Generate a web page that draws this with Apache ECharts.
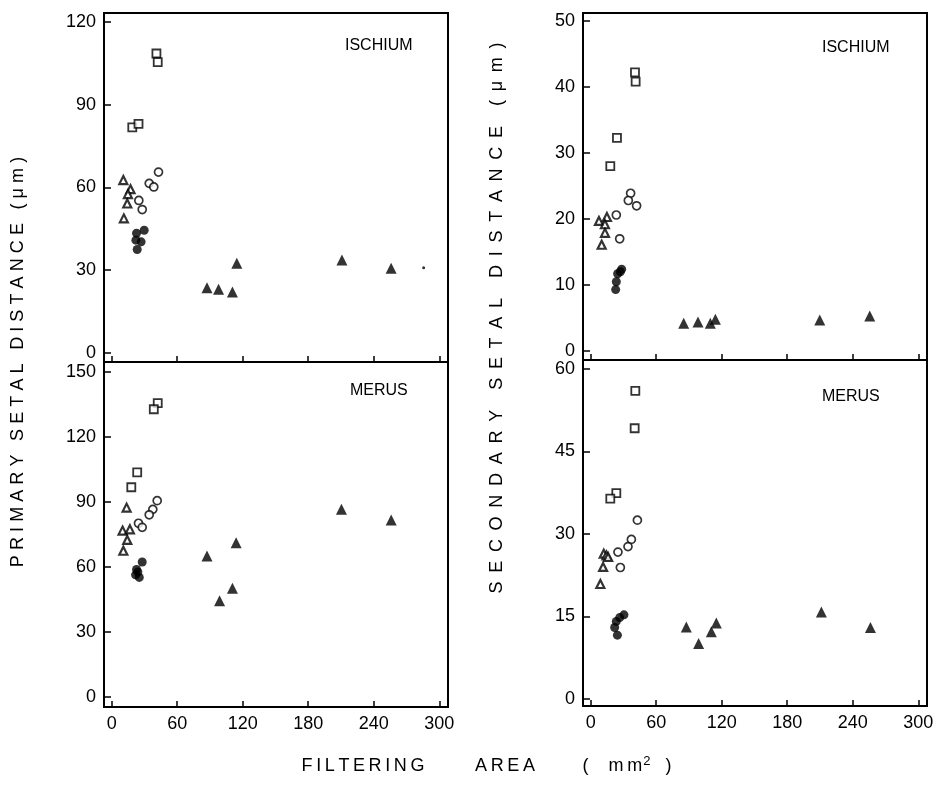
<!DOCTYPE html>
<html><head><meta charset="utf-8">
<script src="https://cdn.jsdelivr.net/npm/echarts@6/dist/echarts.min.js"></script>
<style>html,body{margin:0;padding:0;background:#fff}#c{width:941px;height:785px}</style>
</head><body><div id="c"></div>
<script>
// ---- tick labels ----
const xTicks = [0, 60, 120, 180, 240, 300];
const yTicksIschPrim = [0, 30, 60, 90, 120];
const yTicksIschSec = [0, 10, 20, 30, 40, 50];
const yTicksMerPrim = [0, 30, 60, 90, 120, 150];
const yTicksMerSec = [0, 15, 30, 45, 60];

// ---- ISCHIUM, primary setal distance ----
const ischPrimOpenSq = [[41,108.6],[42.2,105.5],[18.9,81.8],[24.6,83.1]];
const ischPrimOpenCi = [[42.9,65.6],[34.4,61.5],[38.6,60.2],[24.9,55.3],[28,52.0]];
const ischPrimOpenTri = [[10.7,62.7],[17.3,59.4],[14.9,57.6],[14.3,54.2],[11.2,48.8]];
const ischPrimFilledCi = [[29.8,44.5],[22.8,43.4],[22.2,40.9],[27,40.3],[23.4,37.5]];
const ischPrimFilledTri = [[87.3,23.6],[97.9,23.1],[110.6,22.1],[114.6,32.5],[210.9,33.7],[255.9,30.7]];
const ischPrimDot = [[285.7,30.9]];

// ---- ISCHIUM, secondary setal distance ----
const ischSecOpenSq = [[40.6,42.2],[41.2,40.8],[24.1,32.3],[18.0,28.0]];
const ischSecOpenCi = [[36.6,23.9],[34.5,22.8],[42.1,22.0],[23.5,20.6],[26.6,17.0]];
const ischSecOpenTri = [[7.6,19.7],[14.9,20.3],[13.1,19.2],[13.1,17.9],[10.1,16.1]];
const ischSecFilledCi = [[28.4,12.4],[27.2,12.0],[24.7,11.7],[23.5,10.5],[22.9,9.3]];
const ischSecFilledTri = [[85.2,4.2],[98.3,4.4],[109.6,4.2],[114.2,4.8],[209.8,4.7],[255.6,5.3]];

// ---- MERUS, primary setal distance ----
const merPrimOpenSq = [[42.2,135.6],[38.6,132.8],[23.4,103.7],[18.0,96.8]];
const merPrimOpenCi = [[41.7,90.6],[37.7,86.6],[34.4,84.1],[24.6,80.2],[28,78.3]];
const merPrimOpenTri = [[13.7,87.4],[10,76.8],[16.7,77.4],[14.3,72.5],[10.7,67.5]];
const merPrimFilledCi = [[28,62.3],[22.8,58.9],[24,57.7],[21.9,56.4],[25.3,55.2]];
const merPrimFilledTri = [[87.3,65.1],[114,71.2],[110.6,50.2],[98.8,44.4],[210.4,86.6],[256,81.7]];

// ---- MERUS, secondary setal distance ----
const merSecOpenSq = [[40.9,56.0],[40.3,49.2],[23.5,37.4],[18.0,36.4]];
const merSecOpenCi = [[42.8,32.5],[37.3,29.0],[34.2,27.7],[25.0,26.7],[27.2,23.9]];
const merSecOpenTri = [[12,26.4],[14.5,26.1],[16,25.8],[11.4,24.0],[8.9,20.9]];
const merSecFilledCi = [[30.5,15.3],[26.6,14.8],[23.5,14.1],[22,13.0],[24.5,11.6]];
const merSecFilledTri = [[87.6,13.1],[98.9,10.1],[110.5,12.2],[115.1,13.8],[211.3,15.8],[256.2,13.0]];

const FONT = 'Liberation Sans';
const chart = echarts.init(document.getElementById('c'), null, {renderer: 'canvas'});

function xAx(gi, showLabels) {
  return {
    type: 'value', gridIndex: gi, min: -7, max: 308,
    axisLine: {show: true, onZero: false, lineStyle: {color: '#000', width: 2}},
    axisTick: {show: true, inside: true, length: 6, customValues: xTicks, lineStyle: {color: '#000', width: 1.5}},
    axisLabel: {show: showLabels, customValues: xTicks, margin: 8, color: '#000', fontSize: 18, fontFamily: FONT},
    splitLine: {show: false}
  };
}
function yAx(gi, min, max, ticks) {
  return {
    type: 'value', gridIndex: gi, min: min, max: max,
    axisLine: {show: true, onZero: false, lineStyle: {color: '#000', width: 2}},
    axisTick: {show: true, inside: true, length: 7, customValues: ticks, lineStyle: {color: '#000', width: 1.5}},
    axisLabel: {show: true, customValues: ticks, margin: 8, color: '#000', fontSize: 18, fontFamily: FONT},
    splitLine: {show: false}
  };
}
const styles = {
  openSq: {symbol: 'rect', symbolSize: 8, itemStyle: {color: '#fff', borderColor: '#000', borderWidth: 1.8}},
  openCi: {symbol: 'circle', symbolSize: 8, itemStyle: {color: '#fff', borderColor: '#000', borderWidth: 1.7}},
  openTri: {symbol: 'triangle', symbolSize: 8, itemStyle: {color: '#fff', borderColor: '#000', borderWidth: 2.2}},
  filledCi: {symbol: 'circle', symbolSize: 9, itemStyle: {color: '#000'}},
  filledTri: {symbol: 'triangle', symbolSize: 11, itemStyle: {color: '#000'}},
  dot: {symbol: 'circle', symbolSize: 3, itemStyle: {color: '#000'}}
};
function sc(gi, data, kind) {
  return Object.assign({type: 'scatter', xAxisIndex: gi, yAxisIndex: gi, data: data, z: 3}, styles[kind]);
}
function spaced(s, gap, wordGap) {
  return s.split(' ').map(w => Array.from(w).join(gap)).join(wordGap);
}
const TS = '\u2009';
const HS = '\u200A';
const F18 = '18px "Liberation Sans"';

const option = {
  backgroundColor: '#fff',
  animation: false,
  grid: [
    {left: 104, top: 13, width: 344, height: 349, show: true, borderColor: '#000', borderWidth: 2},
    {left: 583, top: 13, width: 344, height: 347, show: true, borderColor: '#000', borderWidth: 2},
    {left: 104, top: 362, width: 344, height: 345, show: true, borderColor: '#000', borderWidth: 2},
    {left: 583, top: 360, width: 344, height: 346, show: true, borderColor: '#000', borderWidth: 2}
  ],
  xAxis: [xAx(0, false), xAx(1, false), xAx(2, true), xAx(3, true)],
  yAxis: [
    yAx(0, -3.3, 123.3, yTicksIschPrim),
    yAx(1, -1.36, 51.2, yTicksIschSec),
    yAx(2, -4.6, 154.6, yTicksMerPrim),
    yAx(3, -1.27, 61.6, yTicksMerSec)
  ],
  series: [
    sc(0, ischPrimOpenSq, 'openSq'), sc(0, ischPrimOpenCi, 'openCi'), sc(0, ischPrimOpenTri, 'openTri'),
    sc(0, ischPrimFilledCi, 'filledCi'), sc(0, ischPrimFilledTri, 'filledTri'), sc(0, ischPrimDot, 'dot'),
    sc(1, ischSecOpenSq, 'openSq'), sc(1, ischSecOpenCi, 'openCi'), sc(1, ischSecOpenTri, 'openTri'),
    sc(1, ischSecFilledCi, 'filledCi'), sc(1, ischSecFilledTri, 'filledTri'),
    sc(2, merPrimOpenSq, 'openSq'), sc(2, merPrimOpenCi, 'openCi'), sc(2, merPrimOpenTri, 'openTri'),
    sc(2, merPrimFilledCi, 'filledCi'), sc(2, merPrimFilledTri, 'filledTri'),
    sc(3, merSecOpenSq, 'openSq'), sc(3, merSecOpenCi, 'openCi'), sc(3, merSecOpenTri, 'openTri'),
    sc(3, merSecFilledCi, 'filledCi'), sc(3, merSecFilledTri, 'filledTri')
  ],
  graphic: [
    {type: 'text', left: 345, top: 38, style: {text: 'ISCHIUM', font: '16px "Liberation Sans"', fill: '#000'}},
    {type: 'text', left: 822, top: 40, style: {text: 'ISCHIUM', font: '16px "Liberation Sans"', fill: '#000'}},
    {type: 'text', left: 350, top: 383, style: {text: 'MERUS', font: '16px "Liberation Sans"', fill: '#000'}},
    {type: 'text', left: 822, top: 389, style: {text: 'MERUS', font: '16px "Liberation Sans"', fill: '#000'}},
    {type: 'text', x: 18, y: 362, rotation: Math.PI / 2,
      style: {text: spaced('PRIMARY SETAL DISTANCE (μm)', TS + HS, '  ' + TS), font: F18, fill: '#000', align: 'center', verticalAlign: 'middle'}},
    {type: 'text', x: 497, y: 318, rotation: Math.PI / 2,
      style: {text: spaced('SECONDARY SETAL DISTANCE (μm)', TS + TS + HS, '    '), font: F18, fill: '#000', align: 'center', verticalAlign: 'middle'}},
    {type: 'text', x: 363, y: 766,
      style: {text: spaced('FILTERING', TS, ''), font: F18, fill: '#000', align: 'center', verticalAlign: 'middle'}},
    {type: 'text', x: 505, y: 766,
      style: {text: spaced('AREA', TS, ''), font: F18, fill: '#000', align: 'center', verticalAlign: 'middle'}},
    {type: 'text', x: 627, y: 766,
      style: {text: '{a|(    m' + TS + 'm}{s|2}{a|   )}', align: 'center', verticalAlign: 'middle',
        rich: {a: {font: F18, fill: '#000'}, s: {font: '13px "Liberation Sans"', fill: '#000', padding: [0, 0, 9, 1]}}}}
  ]
};
chart.setOption(option);
</script>
</body></html>
